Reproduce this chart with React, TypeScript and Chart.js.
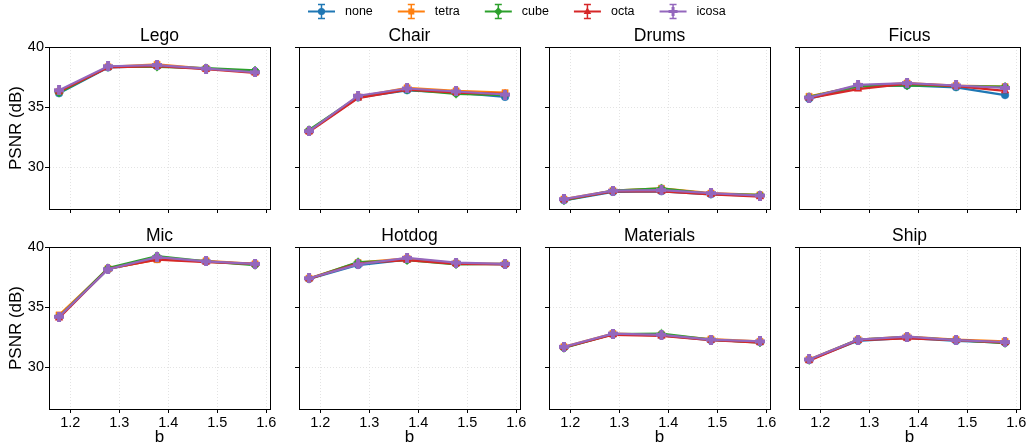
import React, { useEffect, useRef } from 'react';
import { Chart, registerables } from 'chart.js';

Chart.register(...registerables);

// ---------------- data ----------------
const SERIES = ['none', 'tetra', 'cube', 'octa', 'icosa'];
const COLORS = ['#1f77b4', '#ff7f0e', '#2ca02c', '#d62728', '#9467bd'];
const MARKERS = ['circle', 'rect', 'rectRot', 'triangle', 'plus'];

const B_A = [1.177, 1.277, 1.377, 1.477, 1.577];
const B_B = [1.187, 1.287, 1.386, 1.487, 1.587];
const X_TICKS = [1.2, 1.3, 1.4, 1.5, 1.6];
const Y_TICKS = [30, 35, 40];

// rows: none, tetra, cube, octa, icosa
const LEGO = [
  [36.15, 38.3, 38.4, 38.2, 37.95],
  [36.3, 38.35, 38.55, 38.2, 37.9],
  [36.2, 38.35, 38.35, 38.25, 38.05],
  [36.3, 38.3, 38.4, 38.15, 37.85],
  [36.4, 38.4, 38.5, 38.2, 37.9],
];
const CHAIR = [
  [33.0, 35.8, 36.4, 36.2, 35.85],
  [33.0, 35.85, 36.6, 36.35, 36.2],
  [33.1, 35.85, 36.45, 36.1, 36.0],
  [32.95, 35.75, 36.45, 36.2, 36.1],
  [33.0, 35.95, 36.55, 36.3, 36.05],
];
const DRUMS = [
  [27.25, 27.95, 28.0, 27.75, 27.65],
  [27.35, 28.05, 28.25, 27.85, 27.7],
  [27.25, 28.05, 28.25, 27.8, 27.7],
  [27.3, 28.0, 28.0, 27.75, 27.55],
  [27.35, 28.05, 28.1, 27.85, 27.65],
];
const FICUS = [
  [35.7, 36.7, 36.8, 36.65, 36.0],
  [35.9, 36.75, 37.0, 36.8, 36.7],
  [35.85, 36.75, 36.8, 36.75, 36.7],
  [35.75, 36.5, 36.95, 36.75, 36.35],
  [35.8, 36.85, 37.0, 36.8, 36.6],
];
const MIC = [
  [34.2, 38.15, 39.0, 38.8, 38.55],
  [34.35, 38.2, 38.95, 38.85, 38.6],
  [34.2, 38.25, 39.25, 38.8, 38.5],
  [34.1, 38.2, 38.95, 38.75, 38.6],
  [34.2, 38.15, 39.15, 38.8, 38.6],
];
const HOTDOG = [
  [37.35, 38.5, 38.95, 38.65, 38.55],
  [37.4, 38.7, 39.05, 38.65, 38.6],
  [37.35, 38.75, 38.9, 38.55, 38.6],
  [37.35, 38.65, 38.9, 38.6, 38.55],
  [37.4, 38.55, 39.1, 38.7, 38.6],
];
const MATERIALS = [
  [31.65, 32.75, 32.65, 32.25, 32.1],
  [31.7, 32.8, 32.7, 32.35, 32.15],
  [31.6, 32.75, 32.8, 32.3, 32.05],
  [31.65, 32.7, 32.6, 32.25, 32.05],
  [31.7, 32.8, 32.7, 32.3, 32.15],
];
const SHIP = [
  [30.6, 32.2, 32.45, 32.2, 32.05],
  [30.65, 32.3, 32.55, 32.3, 32.15],
  [30.6, 32.3, 32.5, 32.25, 32.0],
  [30.55, 32.25, 32.4, 32.25, 32.05],
  [30.65, 32.3, 32.55, 32.25, 32.1],
];

const SCENES = ['Lego', 'Chair', 'Drums', 'Ficus', 'Mic', 'Hotdog', 'Materials', 'Ship'];
const SCENE_X = [B_A, B_A, B_B, B_A, B_A, B_A, B_B, B_A];
const SCENE_PSNR = [LEGO, CHAIR, DRUMS, FICUS, MIC, HOTDOG, MATERIALS, SHIP];

// ---------------- layout ----------------
const FONT = "'Liberation Sans', Arial, Helvetica, sans-serif";
const X_MIN = 1.1565;
const X_MAX = 1.6075;
const Y_MIN = 26.53;
const Y_MAX = 40;
const COL_LEFT = [49, 299, 549, 799];
const ROW_TOP = [47, 247];
const PLOT_W = 221;
const PLOT_H = 162;
const AXIS_W = 49;
const TITLE_H = 30;
const RIGHT_PAD = 15;
const XAXIS_H = [10, 37];

function makePlus(color: string, size = 10): HTMLCanvasElement {
  const c = document.createElement('canvas');
  c.width = size;
  c.height = size;
  const g = c.getContext('2d')!;
  g.fillStyle = color;
  const t = 4;
  const o = (size - t) / 2;
  g.fillRect(o, 0, t, size);
  g.fillRect(0, o, size, t);
  return c;
}

function pointStyleFor(i: number): any {
  if (MARKERS[i] === 'plus') return makePlus(COLORS[i]);
  return MARKERS[i];
}
function radiusFor(i: number): number {
  const m = MARKERS[i];
  if (m === 'circle') return 3.8;
  if (m === 'rect') return 4.4;
  if (m === 'rectRot') return 4.4;
  if (m === 'triangle') return 4.4;
  return 5;
}

const framePlugin = {
  id: 'frame',
  afterDraw(chart: any) {
    const { ctx, chartArea: a } = chart;
    ctx.save();
    ctx.strokeStyle = '#000';
    ctx.lineWidth = 1;
    ctx.beginPath();
    ctx.moveTo(a.left, a.top + 0.5);
    ctx.lineTo(a.right + 1, a.top + 0.5);
    ctx.moveTo(a.right + 0.5, a.top);
    ctx.lineTo(a.right + 0.5, a.bottom + 1);
    ctx.stroke();
    ctx.restore();
  },
};

function Panel({ idx }: { idx: number }) {
  const ref = useRef<HTMLCanvasElement>(null);
  const row = Math.floor(idx / 4);
  const col = idx % 4;
  const w = AXIS_W + PLOT_W + RIGHT_PAD;
  const h = TITLE_H + PLOT_H + XAXIS_H[row];
  useEffect(() => {
    const xs = SCENE_X[idx];
    const vals = SCENE_PSNR[idx];
    const datasets = SERIES.map((name, s) => ({
      label: name,
      data: xs.map((x, j) => ({ x, y: vals[s][j] })),
      order: SERIES.length - s,
      borderColor: COLORS[s],
      backgroundColor: COLORS[s],
      pointBackgroundColor: COLORS[s],
      pointBorderColor: COLORS[s],
      pointBorderWidth: 0.5,
      pointStyle: pointStyleFor(s),
      pointRadius: radiusFor(s),
      borderWidth: 2.2,
      tension: 0,
      fill: false,
      clip: false as any,
    }));
    const showY = col === 0;
    const showX = row === 1;
    const gridCommon = {
      color: '#dcdcdc',
      lineWidth: 0.8,
      drawTicks: true,
      tickLength: 4,
      tickColor: '#000',
      tickWidth: 1,
      tickBorderDash: [],
    };
    const chart = new Chart(ref.current!, {
      type: 'line',
      data: { datasets },
      plugins: [framePlugin],
      options: {
        animation: false,
        responsive: false,
        events: [],
        layout: { padding: { left: 0, top: 0, right: RIGHT_PAD, bottom: 0 } },
        plugins: {
          legend: { display: false },
          tooltip: { enabled: false },
          title: {
            display: true,
            text: SCENES[idx],
            color: '#000',
            fullSize: false,
            font: { family: FONT, size: 17.5, weight: 'normal', lineHeight: 1.2 },
            padding: { top: 8.2, bottom: 0.8 },
          },
        },
        scales: {
          x: {
            type: 'linear',
            min: X_MIN,
            max: X_MAX,
            afterBuildTicks: (scale: any) => {
              scale.ticks = X_TICKS.map((v) => ({ value: v }));
            },
            afterFit: (scale: any) => {
              scale.height = XAXIS_H[row];
            },
            ticks: {
              display: showX,
              autoSkip: false,
              maxRotation: 0,
              minRotation: 0,
              padding: 1,
              color: '#000',
              font: { family: FONT, size: 14.5 },
              callback: (v: any) => Number(v).toFixed(1),
            },
            grid: gridCommon,
            border: { display: true, color: '#000', width: 1, dash: [1, 2] },
            title: {
              display: showX,
              text: 'b',
              color: '#000',
              font: { family: FONT, size: 17, lineHeight: 1.0 },
              padding: { top: 0, bottom: 0 },
            },
          },
          y: {
            type: 'linear',
            min: Y_MIN,
            max: Y_MAX,
            afterBuildTicks: (scale: any) => {
              scale.ticks = Y_TICKS.map((v) => ({ value: v }));
            },
            afterFit: (scale: any) => {
              scale.width = AXIS_W;
            },
            ticks: {
              display: showY,
              padding: 1,
              color: '#000',
              font: { family: FONT, size: 14.5 },
              callback: (v: any) => String(v),
            },
            grid: gridCommon,
            border: { display: true, color: '#000', width: 1, dash: [1, 2] },
            title: {
              display: showY,
              text: 'PSNR (dB)',
              color: '#000',
              font: { family: FONT, size: 17, lineHeight: 1.2 },
              padding: { top: 5.8, bottom: 0 },
            },
          },
        },
      } as any,
    });
    return () => chart.destroy();
  }, [idx]);
  return (
    <canvas
      ref={ref}
      width={w}
      height={h}
      style={{
        position: 'absolute',
        left: COL_LEFT[col] - AXIS_W,
        top: ROW_TOP[row] - TITLE_H,
        width: w,
        height: h,
      }}
    />
  );
}

const LEGEND_START = 308;
const LEGEND_Y = 11.5;

function drawMarker(ctx: CanvasRenderingContext2D, i: number, x: number, y: number) {
  const m = MARKERS[i];
  ctx.fillStyle = COLORS[i];
  ctx.beginPath();
  if (m === 'circle') {
    ctx.arc(x, y, 3.6, 0, Math.PI * 2);
    ctx.fill();
  } else if (m === 'rect') {
    ctx.fillRect(x - 3, y - 3, 6, 6);
  } else if (m === 'rectRot') {
    ctx.moveTo(x, y - 4.2);
    ctx.lineTo(x + 4.2, y);
    ctx.lineTo(x, y + 4.2);
    ctx.lineTo(x - 4.2, y);
    ctx.closePath();
    ctx.fill();
  } else if (m === 'triangle') {
    ctx.moveTo(x, y - 4.2);
    ctx.lineTo(x + 3.8, y + 2.6);
    ctx.lineTo(x - 3.8, y + 2.6);
    ctx.closePath();
    ctx.fill();
  } else {
    ctx.fillRect(x - 1.5, y - 4.5, 3, 9);
    ctx.fillRect(x - 4.5, y - 1.5, 9, 3);
  }
}

const legendPlugin = {
  id: 'customLegend',
  afterDraw(chart: any) {
    const ctx: CanvasRenderingContext2D = chart.ctx;
    ctx.save();
    ctx.font = `12.5px ${FONT}`;
    ctx.textBaseline = 'middle';
    ctx.textAlign = 'left';
    let x0 = LEGEND_START;
    SERIES.forEach((name, i) => {
      const c = COLORS[i];
      const cx = x0 + 13.5;
      ctx.strokeStyle = c;
      ctx.lineWidth = 2;
      ctx.beginPath();
      ctx.moveTo(x0, LEGEND_Y);
      ctx.lineTo(x0 + 27, LEGEND_Y);
      ctx.stroke();
      ctx.lineWidth = 1.5;
      ctx.beginPath();
      ctx.moveTo(cx, LEGEND_Y - 7);
      ctx.lineTo(cx, LEGEND_Y + 7);
      ctx.moveTo(cx - 3.5, LEGEND_Y - 7);
      ctx.lineTo(cx + 3.5, LEGEND_Y - 7);
      ctx.moveTo(cx - 3.5, LEGEND_Y + 7);
      ctx.lineTo(cx + 3.5, LEGEND_Y + 7);
      ctx.stroke();
      drawMarker(ctx, i, cx, LEGEND_Y);
      ctx.fillStyle = '#000';
      ctx.fillText(name, x0 + 37, LEGEND_Y);
      x0 += 37 + ctx.measureText(name).width + 25;
    });
    ctx.restore();
  },
};

function Legend() {
  const ref = useRef<HTMLCanvasElement>(null);
  useEffect(() => {
    const chart = new Chart(ref.current!, {
      type: 'scatter',
      data: { datasets: [] },
      plugins: [legendPlugin],
      options: {
        animation: false,
        responsive: false,
        events: [],
        scales: { x: { display: false }, y: { display: false } },
        plugins: { legend: { display: false }, tooltip: { enabled: false } },
      } as any,
    });
    return () => chart.destroy();
  }, []);
  return (
    <canvas
      ref={ref}
      width={1029}
      height={24}
      style={{ position: 'absolute', left: 0, top: 0, width: 1029, height: 24 }}
    />
  );
}

export default function App() {
  return (
    <div
      style={{
        position: 'absolute',
        left: 0,
        top: 0,
        width: 1029,
        height: 446,
        background: '#fff',
        overflow: 'hidden',
      }}
    >
      <Legend />
      {SCENES.map((_, i) => (
        <Panel key={i} idx={i} />
      ))}
    </div>
  );
}
